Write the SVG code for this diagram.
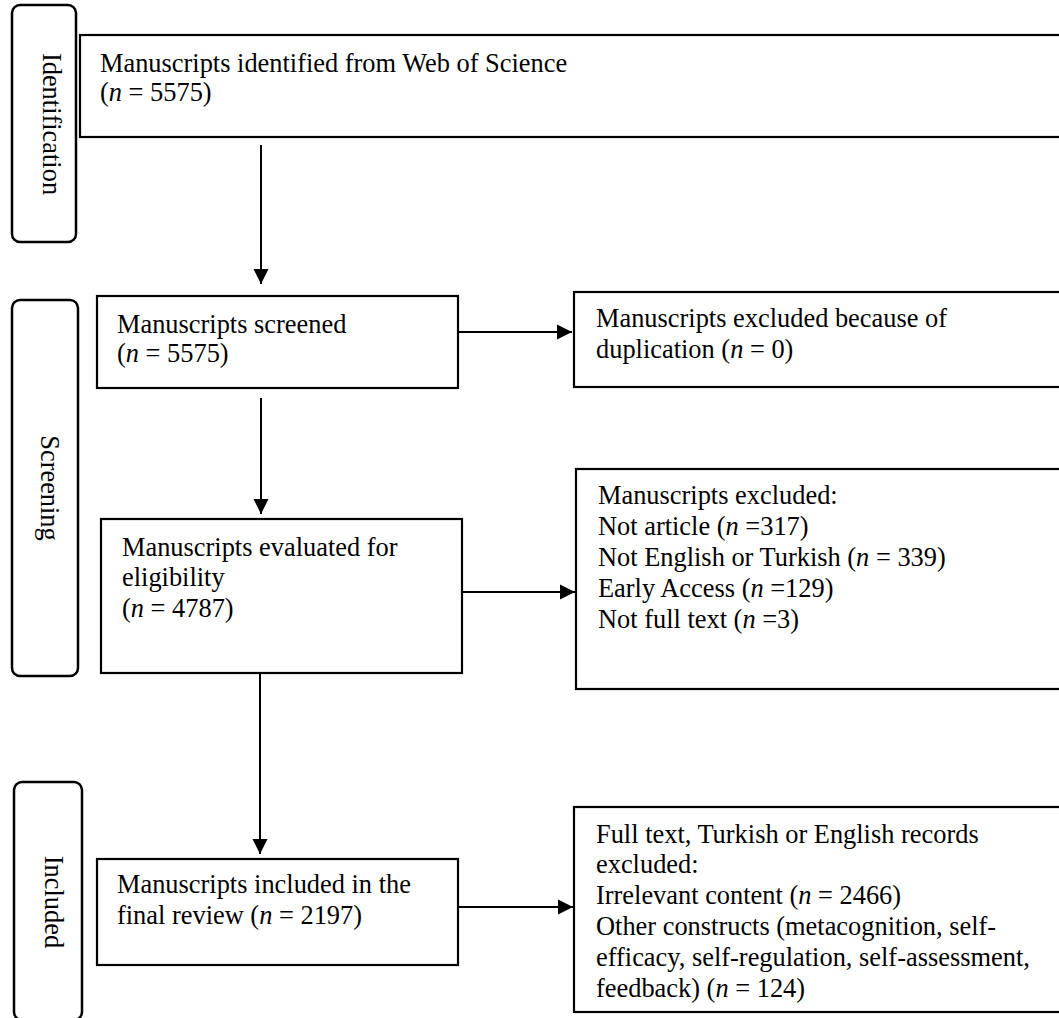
<svg xmlns="http://www.w3.org/2000/svg" width="1059" height="1018" viewBox="0 0 1059 1018">
<style>
.box{fill:#fff;stroke:#000;stroke-width:2.2}
.stage{fill:#fff;stroke:#000;stroke-width:2.5}
.t{font-family:"Liberation Serif","Times New Roman",serif;font-size:26.4px;fill:#000}
.st{font-family:"Liberation Serif","Times New Roman",serif;font-size:26.4px;fill:#000;text-anchor:middle}
.c{fill:none;stroke:#000;stroke-width:2}
</style>
<defs>
<marker id="ah" markerUnits="userSpaceOnUse" markerWidth="16" markerHeight="16" viewBox="0 0 16 16" refX="15" refY="8" orient="auto">
<path d="M0,0.5 L15,8 L0,15.5 Z" fill="#000"/>
</marker>
</defs>
<rect width="1059" height="1018" fill="#fff"/>
<g id="stage-identification">
<rect class="stage" x="12" y="5" width="64" height="237" rx="8"/>
<text class="st" transform="translate(43,124) rotate(90)">Identification</text>
</g>
<g id="stage-screening">
<rect class="stage" x="12" y="300" width="66" height="376" rx="8"/>
<text class="st" transform="translate(41,488) rotate(90)">Screening</text>
</g>
<g id="stage-included">
<rect class="stage" x="14" y="782" width="68" height="238" rx="8"/>
<text class="st" transform="translate(45,902) rotate(90)">Included</text>
</g>
<g id="identified">
<rect class="box" x="80" y="35" width="990" height="102"/>
<text class="t" x="100" y="72">Manuscripts identified from Web of Science</text>
<text class="t" x="100" y="101">(<tspan font-style="italic">n</tspan> = 5575)</text>
</g>
<g id="screened">
<rect class="box" x="97" y="296" width="361" height="92"/>
<text class="t" x="117" y="333">Manuscripts screened</text>
<text class="t" x="117" y="362">(<tspan font-style="italic">n</tspan> = 5575)</text>
</g>
<g id="excluded-duplication">
<rect class="box" x="574" y="292" width="496" height="95"/>
<text class="t" x="596" y="327">Manuscripts excluded because of</text>
<text class="t" x="596" y="358">duplication (<tspan font-style="italic">n</tspan> = 0)</text>
</g>
<g id="eligibility">
<rect class="box" x="101" y="519" width="361" height="154"/>
<text class="t" x="122" y="556">Manuscripts evaluated for</text>
<text class="t" x="122" y="586">eligibility</text>
<text class="t" x="122" y="617">(<tspan font-style="italic">n</tspan> = 4787)</text>
</g>
<g id="excluded-eligibility">
<rect class="box" x="576" y="469" width="494" height="220"/>
<text class="t" x="598" y="504">Manuscripts excluded:</text>
<text class="t" x="598" y="535">Not article (<tspan font-style="italic">n</tspan> =317)</text>
<text class="t" x="598" y="566">Not English or Turkish (<tspan font-style="italic">n</tspan> = 339)</text>
<text class="t" x="598" y="597">Early Access (<tspan font-style="italic">n</tspan> =129)</text>
<text class="t" x="598" y="628">Not full text (<tspan font-style="italic">n</tspan> =3)</text>
</g>
<g id="included">
<rect class="box" x="97" y="859" width="361" height="106"/>
<text class="t" x="117" y="893">Manuscripts included in the</text>
<text class="t" x="117" y="924">final review (<tspan font-style="italic">n</tspan> = 2197)</text>
</g>
<g id="excluded-fulltext">
<rect class="box" x="574" y="807" width="496" height="205"/>
<text class="t" x="596" y="843">Full text, Turkish or English records</text>
<text class="t" x="596" y="873">excluded:</text>
<text class="t" x="596" y="904">Irrelevant content (<tspan font-style="italic">n</tspan> = 2466)</text>
<text class="t" x="596" y="935">Other constructs (metacognition, self-</text>
<text class="t" x="596" y="966">efficacy, self-regulation, self-assessment,</text>
<text class="t" x="596" y="997">feedback) (<tspan font-style="italic">n</tspan> = 124)</text>
</g>
<g id="connectors">
<line class="c" x1="261" y1="145" x2="261" y2="284" marker-end="url(#ah)"/>
<line class="c" x1="261" y1="398" x2="261" y2="514" marker-end="url(#ah)"/>
<line class="c" x1="260" y1="673" x2="260" y2="854" marker-end="url(#ah)"/>
<line class="c" x1="458" y1="332" x2="572" y2="332" marker-end="url(#ah)"/>
<line class="c" x1="462" y1="592" x2="575" y2="592" marker-end="url(#ah)"/>
<line class="c" x1="458" y1="907" x2="573" y2="907" marker-end="url(#ah)"/>
</g>
</svg>
